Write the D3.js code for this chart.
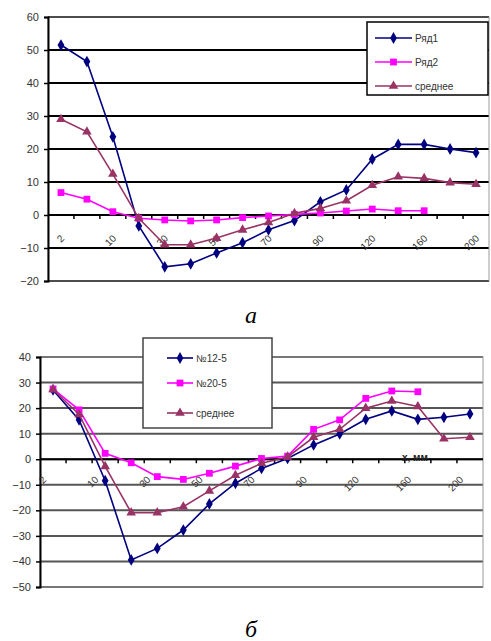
<!DOCTYPE html>
<html>
<head>
<meta charset="utf-8">
<script src="https://cdnjs.cloudflare.com/ajax/libs/d3/7.8.5/d3.min.js"></script>
<style>
  body { margin: 0; background: #fff; }
  svg { display: block; }
</style>
</head>
<body>
<div id="chart"></div>
<script>
// categories (distance, mm) shared by both panels
const categories = ["2", "6", "10", "20", "30", "40", "50", "60", "70", "80", "90", "100", "120", "140", "160", "180", "200"];
const shownLabels = ["2", "10", "30", "50", "70", "90", "120", "160", "200"];

// panel a
const seriesNamesA = ["Ряд1", "Ряд2", "среднее"];
const row1A = [51.5, 46.5, 23.7, -3.3, -15.7, -14.8, -11.5, -8.4, -4.5, -1.7, 4, 7.6, 16.9, 21.4, 21.4, 20, 18.9];
const row2A = [6.8, 4.8, 1, -1, -1.5, -1.8, -1.5, -0.8, -0.3, 0.2, 0.6, 1.2, 1.8, 1.3, 1.3, null, null];
const meanA = [29, 25.2, 12.4, -1, -9, -9, -7, -4.5, -2.3, 0.5, 2, 4.3, 9, 11.6, 11.1, 9.8, 9.3];
const yTicksA = [60, 50, 40, 30, 20, 10, 0, -10, -20];

// panel б
const seriesNamesB = ["№12-5", "№20-5", "среднее"];
const row1B = [27.1, 15.4, -8.4, -39.4, -34.9, -27.7, -17.5, -9.4, -3.6, 0.3, 5.6, 9.9, 15.6, 18.9, 15.6, 16.4, 17.7];
const row2B = [27.5, 19.3, 2.3, -1.4, -6.8, -7.9, -5.5, -2.7, 0.3, 1.2, 11.7, 15.4, 23.8, 26.7, 26.4, null, null];
const meanB = [27.3, 17.5, -2.8, -20.9, -20.9, -18.6, -12.4, -6.3, -1.6, 0.9, 8.6, 11.7, 20, 22.8, 20.6, 8, 8.6];
const yTicksB = [40, 30, 20, 10, 0, -10, -20, -30, -40, -50];

const colors = ["#000080", "#ff00ff", "#993366"];
const symbols = [d3.symbolDiamond, d3.symbolSquare, d3.symbolTriangle];
const symSizes = [40, 46, 40];

const W = 491, H = 641;
const svg = d3.select("#chart").append("svg")
  .attr("width", W).attr("height", H)
  .style("font-family", "Arial, 'Liberation Sans', sans-serif");

function drawPanel(cfg) {
  const g = svg.append("g");

  const x = d3.scaleBand()
    .domain(categories)
    .range([cfg.left, cfg.right]);

  const y = d3.scaleLinear()
    .domain(d3.extent(cfg.yTicks))
    .range([cfg.bottom, cfg.top]);

  // gridlines
  g.selectAll(".grid").data(cfg.yTicks).enter().append("line")
    .attr("x1", cfg.left).attr("x2", cfg.right)
    .attr("y1", d => y(d)).attr("y2", d => y(d))
    .attr("stroke", cfg.gridColor)
    .attr("stroke-width", 2);

  // plot border
  g.append("rect")
    .attr("x", cfg.left).attr("y", cfg.top)
    .attr("width", cfg.right - cfg.left).attr("height", cfg.bottom - cfg.top)
    .attr("fill", "none")
    .attr("stroke", "#9a9a9a")
    .attr("stroke-width", 1);

  // y axis
  const yAxis = g.append("g")
    .attr("transform", `translate(${cfg.left},0)`)
    .call(d3.axisLeft(y).tickValues(cfg.yTicks).tickSize(4).tickPadding(5));
  yAxis.select(".domain").attr("stroke", "#000").attr("stroke-width", 2);
  yAxis.selectAll(".tick line").attr("stroke", "#000").attr("stroke-width", 1.5);
  yAxis.selectAll("text")
    .attr("fill", "#333")
    .style("font-size", "11px");

  // x axis at zero, ticks at category boundaries
  const y0 = y(0);
  g.append("line")
    .attr("x1", cfg.left).attr("x2", cfg.right)
    .attr("y1", y0).attr("y2", y0)
    .attr("stroke", "#000").attr("stroke-width", 2);
  g.selectAll(".xtick").data(categories.slice(1)).enter().append("line")
    .attr("x1", d => x(d)).attr("x2", d => x(d))
    .attr("y1", y0).attr("y2", y0 + 4)
    .attr("stroke", "#000").attr("stroke-width", 1.5);

  g.selectAll(".xlabel").data(shownLabels).enter().append("text")
    .attr("text-anchor", "end")
    .attr("transform", d => `translate(${x(d) + x.bandwidth() / 2 + cfg.labelDx},${y0 + cfg.labelDy}) rotate(-45)`)
    .attr("fill", "#333")
    .style("font-size", "10px")
    .text(d => d);

  if (cfg.axisTitle) {
    g.append("text")
      .attr("x", cfg.axisTitle.x).attr("y", y0 + cfg.axisTitle.dy)
      .attr("fill", "#222")
      .style("font-size", "10px")
      .style("font-weight", "bold")
      .text(cfg.axisTitle.text);
  }

  // series
  const line = d3.line()
    .defined(d => d.v !== null)
    .x(d => x(d.c) + x.bandwidth() / 2)
    .y(d => y(d.v));

  cfg.series.forEach((vals, i) => {
    const pts = vals.map((v, j) => ({c: categories[j], v: v}));
    g.append("path")
      .datum(pts)
      .attr("fill", "none")
      .attr("stroke", colors[i])
      .attr("stroke-width", 1.6)
      .attr("d", line);
    g.selectAll(".m" + i).data(pts.filter(d => d.v !== null)).enter().append("path")
      .attr("transform", d => `translate(${x(d.c) + x.bandwidth() / 2},${y(d.v)})`)
      .attr("d", d3.symbol().type(symbols[i]).size(symSizes[i]))
      .attr("fill", colors[i]);
  });

  // legend
  const lg = g.append("g").attr("transform", `translate(${cfg.legend.x},${cfg.legend.y})`);
  lg.append("rect")
    .attr("width", cfg.legend.w).attr("height", cfg.legend.h)
    .attr("fill", "#fff")
    .attr("stroke", cfg.legend.border)
    .attr("stroke-width", 1.5);
  cfg.names.forEach((name, i) => {
    const ry = cfg.legend.rowY[i];
    lg.append("line")
      .attr("x1", cfg.legend.lx1).attr("x2", cfg.legend.lx2)
      .attr("y1", ry).attr("y2", ry)
      .attr("stroke", colors[i]).attr("stroke-width", 1.6);
    lg.append("path")
      .attr("transform", `translate(${(cfg.legend.lx1 + cfg.legend.lx2) / 2},${ry})`)
      .attr("d", d3.symbol().type(symbols[i]).size(symSizes[i]))
      .attr("fill", colors[i]);
    lg.append("text")
      .attr("x", cfg.legend.lx2 + 3).attr("y", ry + 4)
      .attr("fill", "#333")
      .style("font-size", "10px")
      .text(name);
  });

  // caption
  svg.append("text")
    .attr("x", cfg.caption.x).attr("y", cfg.caption.y)
    .attr("text-anchor", "middle")
    .style("font-family", "'Liberation Serif', 'Times New Roman', serif")
    .style("font-style", "italic")
    .style("font-size", "24px")
    .text(cfg.caption.text);
}

drawPanel({
  left: 48, right: 489, top: 17, bottom: 281,
  yTicks: yTicksA,
  gridColor: "#000",
  series: [row1A, row2A, meanA],
  names: seriesNamesA,
  labelDx: 4, labelDy: 24,
  legend: {x: 367, y: 22, w: 121, h: 73, border: "#000", rowY: [16, 40, 64], lx1: 8, lx2: 45},
  caption: {x: 251, y: 323, text: "а"}
});

drawPanel({
  left: 40, right: 483, top: 357, bottom: 587,
  yTicks: yTicksB,
  gridColor: "#555",
  series: [row1B, row2B, meanB],
  names: seriesNamesB,
  labelDx: -6, labelDy: 21,
  legend: {x: 143, y: 338, w: 129, h: 90, border: "#444", rowY: [20, 45, 75], lx1: 24, lx2: 50},
  axisTitle: {x: 402, dy: 2, text: "x, мм"},
  caption: {x: 251, y: 637, text: "б"}
});
</script>
</body>
</html>
